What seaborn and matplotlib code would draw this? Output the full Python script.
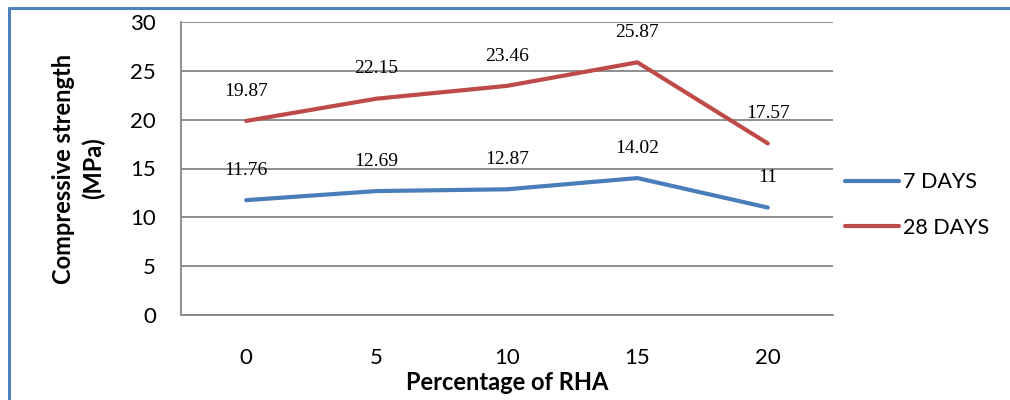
import pandas as pd
import matplotlib.pyplot as plt
from matplotlib.lines import Line2D
import seaborn as sns

# Données
rha_pct = ['0', '5', '10', '15', '20']
days_7 = [11.76, 12.69, 12.87, 14.02, 11]
days_28 = [19.87, 22.15, 23.46, 25.87, 17.57]
series_names = ['7 DAYS', '28 DAYS']
y_ticks = [0, 5, 10, 15, 20, 25, 30]

df = pd.DataFrame({
    'pct': rha_pct * 2,
    'strength': days_7 + days_28,
    'age': [series_names[0]] * len(rha_pct) + [series_names[1]] * len(rha_pct),
})

sns.set_style('white', {'text.color': 'black', 'axes.labelcolor': 'black',
                        'xtick.color': 'black', 'ytick.color': 'black'})
plt.rcParams['font.family'] = ['Lato', 'DejaVu Sans']

fig = plt.figure(figsize=(10.1, 4.0), dpi=100)
ax = fig.add_axes([181/1010, 85/400, 652/1010, 293/400])

colors = {'7 DAYS': '#4A7EBB', '28 DAYS': '#BE4B48'}
sns.lineplot(data=df, x='pct', y='strength', hue='age', palette=colors,
             linewidth=3.0, solid_capstyle='round', ax=ax, legend=False, zorder=3)

# étiquettes de données
for vals in (days_7, days_28):
    for i, v in enumerate(vals):
        ax.annotate(f'{v:g}', (i, v), xytext=(0, 21.5), textcoords='offset points',
                    ha='center', va='center', fontsize=14, family='Liberation Serif',
                    color='black', zorder=2)

ax.set_xlim(-0.5, len(rha_pct) - 0.5)
ax.set_ylim(0, 30)
ax.set_yticks(y_ticks)
ax.yaxis.grid(True, color='#868686', linewidth=1.3, zorder=1)
ax.set_axisbelow(True)
for s in ['top', 'right']:
    ax.spines[s].set_visible(False)
for s in ['left', 'bottom']:
    ax.spines[s].set_color('#868686')
    ax.spines[s].set_linewidth(1.3)
ax.tick_params(axis='y', length=0, pad=18, labelsize=16, labelcolor='black')
ax.tick_params(axis='x', length=0, pad=24, labelsize=16, labelcolor='black')

ax.set_xlabel('Percentage of RHA', fontsize=17, fontweight='bold', va='center',
              color='black')
ax.xaxis.set_label_coords(0.5, -0.229)
ax.set_ylabel('Compressive strength\n(MPa)', fontsize=17, fontweight='bold',
              va='center', linespacing=1.35, color='black')
ax.yaxis.set_label_coords(-0.157, 0.5)

handles = [Line2D([], [], color=colors[n], linewidth=3.0, solid_capstyle='round')
           for n in series_names]
fig.legend(handles, series_names, loc='center left',
           bbox_to_anchor=(845/1010, 1 - 205/400), frameon=False, fontsize=15.5,
           handlelength=2.5, handletextpad=0.2, labelspacing=1.2,
           borderpad=0, borderaxespad=0, labelcolor='black')

# bordure bleue du cadre
fig.add_artist(Line2D([9/1010, 9/1010], [0, 1 - 8/400], color='#4F81BD',
                      linewidth=2.2, transform=fig.transFigure))
fig.add_artist(Line2D([9/1010, 1], [1 - 8/400, 1 - 8/400], color='#4F81BD',
                      linewidth=2.2, transform=fig.transFigure))

fig.savefig('out.png', dpi=100)
